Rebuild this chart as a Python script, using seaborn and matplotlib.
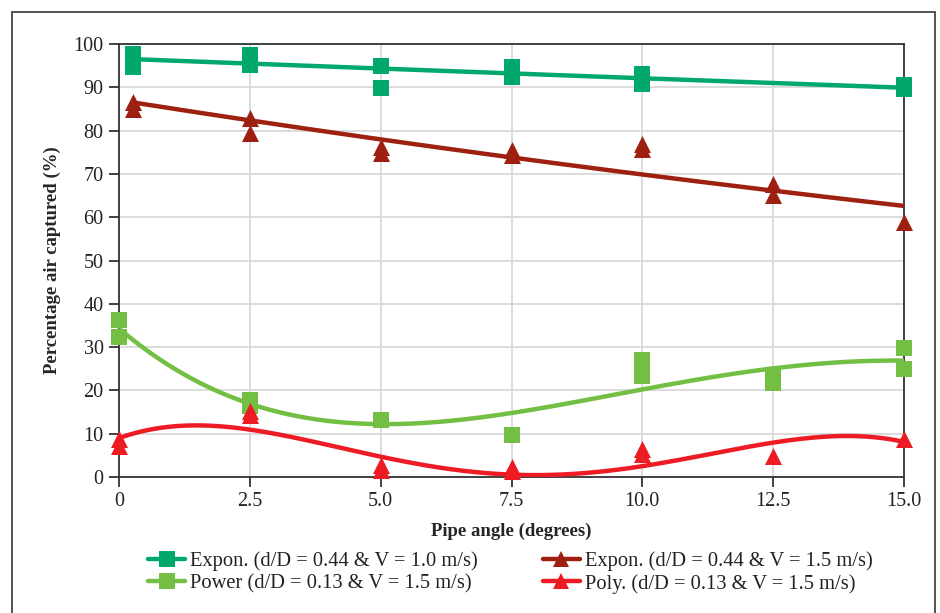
import numpy as np
import pandas as pd
import matplotlib
matplotlib.use("Agg")
import matplotlib.pyplot as plt
import seaborn as sns
from matplotlib.lines import Line2D
from matplotlib.patches import Rectangle

# ---------------- data ----------------
x_ticks = [0, 2.5, 5, 7.5, 10, 12.5, 15]
x_tick_labels = ["0", "2.5", "5.0", "7.5", "10.0", "12.5", "15.0"]
y_ticks = [0, 10, 20, 30, 40, 50, 60, 70, 80, 90, 100]

labels = [
    "Expon. (d/D = 0.44 & V = 1.0 m/s)",
    "Expon. (d/D = 0.44 & V = 1.5 m/s)",
    "Power (d/D = 0.13 & V = 1.5 m/s)",
    "Poly. (d/D = 0.13 & V = 1.5 m/s)",
]
colors = ["#00A86B", "#9E2010", "#72BF44", "#ED1C24"]
markers = ["s", "^", "s", "^"]

# measured points
a_x = [0.27, 0.27, 2.5, 2.5, 5, 5, 7.5, 7.5, 10, 10, 15, 15]
a_y = [97.8, 94.8, 97.4, 95.1, 95.0, 89.8, 94.7, 92.4, 93.0, 90.8, 90.5, 89.5]

b_x = [0.27, 0.27, 2.5, 2.5, 5, 5, 7.5, 7.5, 10, 10, 12.5, 12.5, 15]
b_y = [86.6, 85.0, 82.9, 79.4, 76.2, 74.8, 75.5, 74.3, 77.0, 75.8, 67.6, 65.2, 59.0]

c_x = [0, 0, 2.5, 2.5, 5, 7.5, 10, 10, 12.5, 12.5, 15, 15]
c_y = [36.3, 32.4, 17.8, 16.4, 13.1, 9.8, 27.0, 23.4, 23.6, 21.6, 29.9, 25.0]

d_x = [0, 0, 2.5, 2.5, 5, 5, 7.5, 7.5, 10, 10, 12.5, 15]
d_y = [8.8, 7.2, 15.3, 14.3, 2.8, 1.6, 2.4, 1.5, 6.4, 5.4, 4.9, 8.8]

# trend lines
a_trend_x = [0.27, 15]
a_trend_y = [96.5, 89.9]
b_trend_x = [0.27, 15]
b_trend_y = [86.5, 62.6]
c_trend_x = [0, 2.5, 5, 7.5, 10, 12.5, 15]
c_trend_y = [34.3, 16.9, 12.3, 14.6, 20.4, 25.0, 26.9]
d_trend_x = [0, 1.5, 2.5, 5, 7.5, 10, 12.5, 13.8, 15]
d_trend_y = [9.0, 11.8, 11.1, 4.6, 0.6, 2.5, 7.9, 9.5, 8.1]

# ---------------- trend curves ----------------
def expon_curve(xs, ys):
    k = np.polyfit(xs, np.log(ys), 1)
    xx = np.linspace(xs[0], xs[-1], 200)
    return xx, np.exp(np.polyval(k, xx))

def poly_curve(xs, ys, deg):
    k = np.polyfit(xs, ys, deg)
    xx = np.linspace(xs[0], xs[-1], 300)
    return xx, np.polyval(k, xx)

curves = [
    expon_curve(a_trend_x, a_trend_y),
    expon_curve(b_trend_x, b_trend_y),
    poly_curve(c_trend_x, c_trend_y, 4),
    poly_curve(d_trend_x, d_trend_y, 6),
]
points = [(a_x, a_y), (b_x, b_y), (c_x, c_y), (d_x, d_y)]

# ---------------- figure ----------------
sns.set_theme(style="white")
plt.rcParams["font.family"] = ["Liberation Serif", "DejaVu Serif"]
plt.rcParams["text.color"] = "#222222"

fig = plt.figure(figsize=(9.4, 6.13), dpi=100)
ax = fig.add_axes([119 / 940, 1 - 477 / 613, (904 - 119) / 940, (477 - 44) / 613])

for i in range(4):
    xx, yy = curves[i]
    sns.lineplot(x=xx, y=yy, color=colors[i], lw=3.2, ax=ax, legend=False,
                 estimator=None, sort=False, zorder=3)
    px, py = points[i]
    size = 130 if markers[i] == "s" else 150
    sns.scatterplot(x=px, y=py, color=colors[i], marker=markers[i], s=size,
                    linewidth=0, ax=ax, legend=False, zorder=4, clip_on=False)

ax.set_xlim(0, 15)
ax.set_ylim(0, 100)
ax.set_xticks(x_ticks)
ax.set_xticklabels(x_tick_labels)
ax.set_yticks(y_ticks)
ax.grid(True, color="#d9d9d9", lw=1.3)
ax.set_axisbelow(True)
for s in ax.spines.values():
    s.set_color("#333333")
    s.set_linewidth(1.3)
    s.set_visible(True)
ax.tick_params(axis="both", which="major", direction="out", length=7, width=1.3,
               color="#333333", labelsize=14.5, labelcolor="#222222", pad=4,
               bottom=True, left=True)
ax.set_xlabel("Pipe angle (degrees)", fontsize=13.5, fontweight="bold", labelpad=8)
ax.set_ylabel("Percentage air captured (%)", fontsize=13.5, fontweight="bold", labelpad=9)

# legend (column-first ordering)
handles = [Line2D([], [], color=colors[i], lw=3.2, marker=markers[i], markersize=12,
                  markeredgewidth=0) for i in range(4)]
order = [0, 2, 1, 3]
leg = fig.legend([handles[i] for i in order], [labels[i] for i in order],
                 ncol=2, loc="upper left", bbox_to_anchor=(148 / 940, 1 - 551 / 613),
                 frameon=False, fontsize=14.8, handlelength=1.8, handletextpad=0.25,
                 columnspacing=3.15, labelspacing=0.15, borderpad=0, borderaxespad=0)

# outer frame
fig.patches.append(Rectangle((12 / 940, -0.05), (935 - 12) / 940, 1 - 12 / 613 + 0.05,
                             transform=fig.transFigure, fill=False,
                             edgecolor="#444444", lw=1.3))

fig.savefig("out.png", dpi=100)
